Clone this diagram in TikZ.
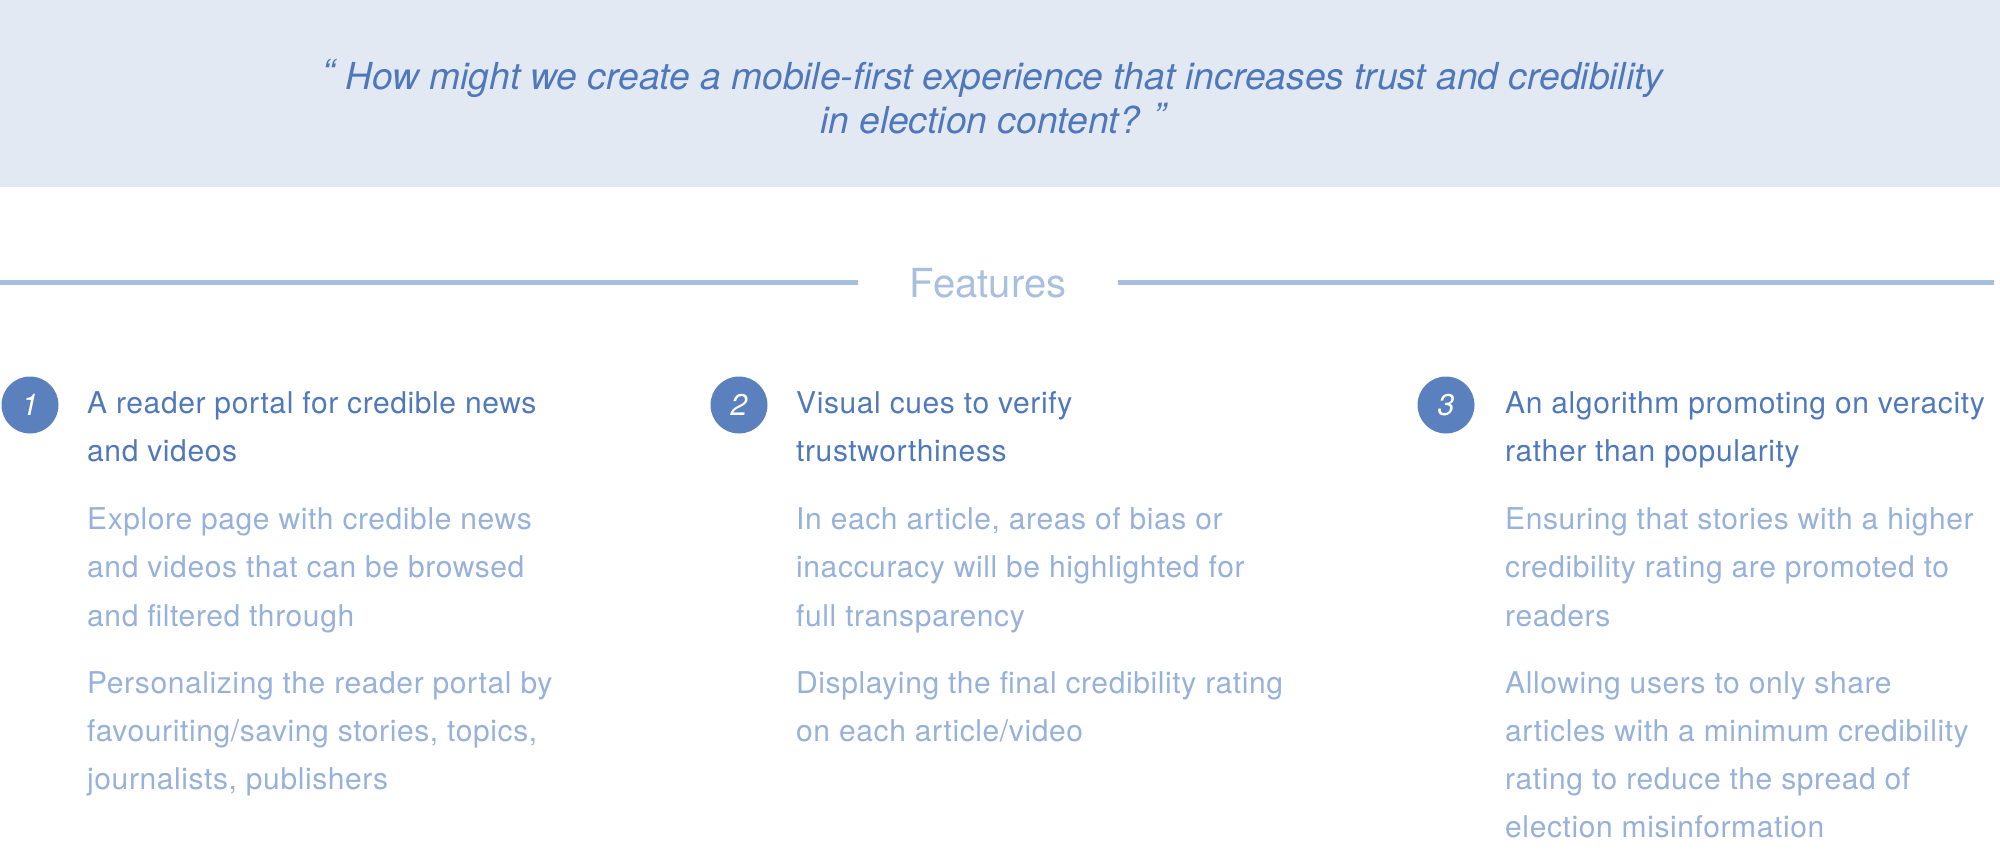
\documentclass[tikz,border=0pt]{standalone}
\usepackage{fontspec}
\setmainfont{TeX Gyre Heros}
\newfontfamily\bodyfont[LetterSpace=2]{TeX Gyre Heros}
\newfontfamily\quotefont{TeX Gyre Heros}
\definecolor{headbg}{HTML}{E3E9F3}
\definecolor{quotecol}{HTML}{4F78BA}
\definecolor{featcol}{HTML}{A9BFDF}
\definecolor{circcol}{HTML}{5A80BE}
\definecolor{titlecol}{HTML}{5079BC}
\definecolor{bodycol}{HTML}{97B1DA}
\tikzset{
  quotetext/.style={anchor=base, inner sep=0pt, text=quotecol, font=\quotefont\itshape\fontsize{37.2}{44}\selectfont},
  feattext/.style={anchor=base, inner xsep=52pt, inner ysep=0pt, text=featcol, font=\fontsize{40}{48}\selectfont},
  rule/.style={draw=featcol, line width=5pt},
  numcirc/.style={circle, fill=circcol, minimum size=57pt, inner sep=0pt, text=white, font=\itshape\fontsize{30}{34}\selectfont},
  titletext/.style={anchor=base west, inner sep=0pt, text=titlecol, font=\bodyfont\fontsize{30}{48}\selectfont},
  bodytext/.style={anchor=base west, inner sep=0pt, text=bodycol, font=\bodyfont\fontsize{30}{48}\selectfont},
}
\begin{document}
\begin{tikzpicture}[x=1pt, y=-1pt]
\useasboundingbox (0,0) rectangle (2000,851);
% header band
\fill[headbg] (0,0) rectangle (2000,187);
\node[quotetext] (q1) at (993,89) {\raisebox{4pt}{“} How might we create a mobile-first experience that increases trust and credibility};
\node[quotetext] (q2) at (993,133) {in election content? \raisebox{4pt}{”}};
% Features heading with rules
\node[feattext] (feat) at (988,297) {Features};
\coordinate (ruleL) at (0,282);
\coordinate (ruleR) at (1994,282);
\draw[rule] (ruleL) -- (ruleL -| feat.west);
\draw[rule] (ruleR -| feat.east) -- (ruleR);
% number circles
\node[numcirc] (n1) at (30,405) {1};
\node[numcirc] (n2) at (739,405) {2};
\node[numcirc] (n3) at (1446,405) {3};
% titles
\node[titletext] (t1a) at (87,413) {A reader portal for credible news};
\node[titletext] (t1b) at (87,461) {and videos};
\node[titletext] (t2a) at (796,413) {Visual cues to verify};
\node[titletext] (t2b) at (796,461) {trustworthiness};
\node[titletext] (t3a) at (1505,413) {An algorithm promoting on veracity};
\node[titletext] (t3b) at (1505,461) {rather than popularity};
% column 1
\foreach \t [count=\i from 0] in {Explore page with credible news, and videos that can be browsed, and filtered through}
  \node[bodytext] (c1p\i) at (87,529+48.8*\i) {\t};
\foreach \t [count=\i from 0] in {Personalizing the reader portal by, {favouriting/saving stories, topics,}, {journalists, publishers}}
  \node[bodytext] (c1q\i) at (87,693+48.2*\i) {\t};
% column 2
\foreach \t [count=\i from 0] in {{In each article, areas of bias or}, inaccuracy will be highlighted for, full transparency}
  \node[bodytext] (c2p\i) at (796,529+48.8*\i) {\t};
\foreach \t [count=\i from 0] in {Displaying the final credibility rating, on each article/video}
  \node[bodytext] (c2q\i) at (796,693+48.2*\i) {\t};
% column 3
\foreach \t [count=\i from 0] in {Ensuring that stories with a higher, credibility rating are promoted to, readers}
  \node[bodytext] (c3p\i) at (1505,529+48.8*\i) {\t};
\foreach \t [count=\i from 0] in {Allowing users to only share, articles with a minimum credibility, rating to reduce the spread of, election misinformation}
  \node[bodytext] (c3q\i) at (1505,693+48.2*\i) {\t};
\end{tikzpicture}
\end{document}
